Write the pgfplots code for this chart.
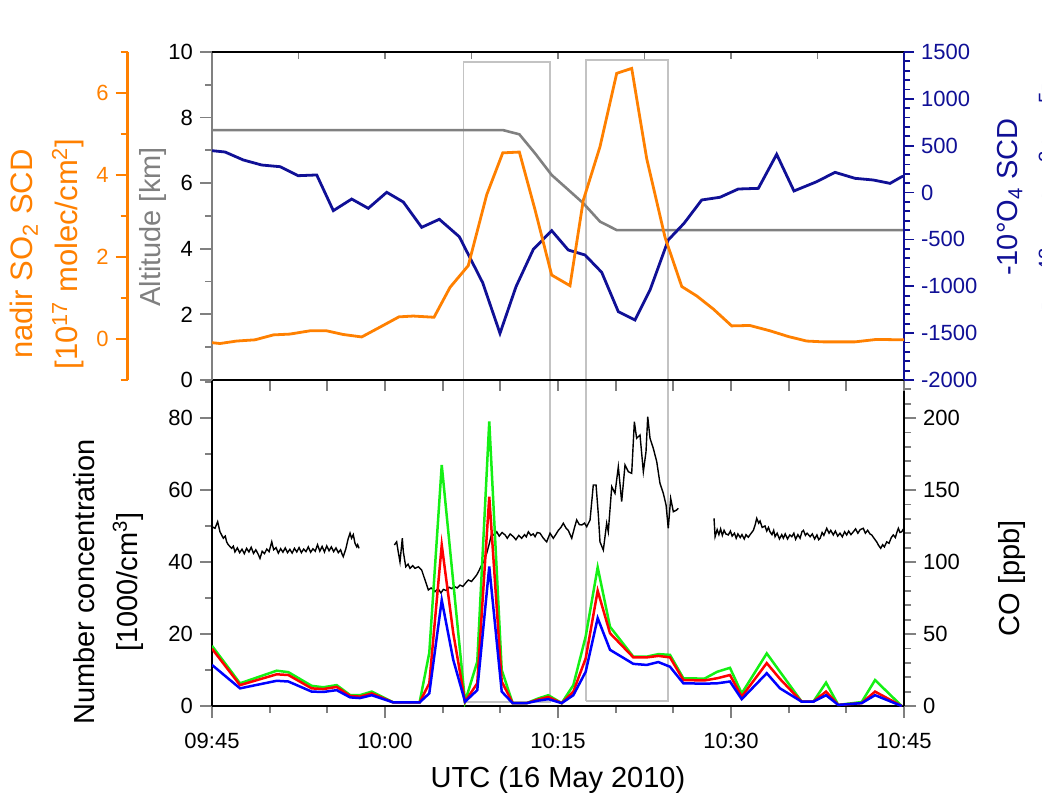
\documentclass[border=0pt]{standalone}
\usepackage{fontspec}
\setmainfont{Liberation Sans}
\usepackage{pgfplots}
\usepackage{pgfplotstable}
\pgfplotsset{compat=1.18}

\definecolor{so2}{RGB}{255,128,0}
\definecolor{o4}{RGB}{16,16,150}
\definecolor{alt}{RGB}{128,128,128}
\definecolor{boxg}{RGB}{195,195,195}
\definecolor{pgreen}{RGB}{20,240,20}
\definecolor{pred}{RGB}{255,0,0}
\definecolor{pblue}{RGB}{0,0,255}

% particle number concentration, minutes after 09:45
\pgfplotstableread{
t     g     r     b
0     16.7  15.9  11.4
2.43  6.3   5.8   4.9
5.61  9.8   8.8   7.0
6.62  9.4   8.6   6.8
8.64  5.6   4.9   4.0
9.65  5.2   4.7   3.9
10.81 5.8   5.3   4.4
11.97 3.05  2.8   2.4
12.83 3.0   2.6   2.2
13.85 4.0   3.5   3.0
15.72 1.0   1.0   1.0
18.0  1.0   1.0   1.0
18.84 14.8  6.3   3.5
19.92 66.9  44.7  29.4
20.92 34.3  20.2  12.8
21.94 1.2   1.2   1.2
23.00 12.3  6.3   4.4
24.04 79.0  58.1  38.7
25.12 10.0  6.8   4.0
26.07 0.8   0.8   0.8
27.29 0.8   0.8   0.8
28.29 2.1   1.8   1.5
29.16 3.0   2.5   1.9
30.32 0.8   0.8   0.8
31.33 5.8   4.0   3.0
32.40 19.3  13.2  9.5
33.44 38.5  32.0  24.4
34.51 22.0  20.2  15.6
36.53 13.7  13.5  11.7
37.69 13.7  13.5  11.4
38.70 14.4  13.9  12.2
39.71 14.2  13.5  10.9
40.87 7.7   7.2   6.3
42.7  7.6   7.1   6.2
43.8  9.5   7.7   6.3
44.91 10.6  8.6   6.8
45.93 3.5   2.6   1.9
48.10 14.6  11.9  9.1
49.25 9.5   7.5   4.9
51.13 1.2   1.2   1.2
52.14 1.2   1.2   1.2
53.24 6.5   4.0   3.0
54.30 0.3   0.3   0.3
56.33 1.1   0.8   0.8
57.49 7.2   4.0   3.0
59.80 0     0     0
}\partdata

\pgfplotsset{
  panel/.style={scale only axis, width=346pt, xmin=0, xmax=60,
    tick label style={font=\fontsize{11}{13}\selectfont},
    /pgf/number format/assume math mode=true,
    /pgf/number format/1000 sep={},
    tick align=outside,
    major tick length=6pt, minor tick length=3.5pt,
    every tick/.append style={line width=0.9pt},
    axis line style={line width=1pt},
    clip mode=individual},
}
\tikzset{lab/.style={font=\fontsize{14.5}{17}\selectfont, inner sep=0pt},
         bigl/.style={font=\fontsize{15.5}{18}\selectfont, inner sep=0pt}}

\begin{document}
\begin{tikzpicture}
\useasboundingbox (-106pt,-48.5pt) rectangle (415pt,353pt);

% grey frames and all axis titles
\begin{axis}[panel, height=327pt, ymin=0, ymax=1, hide axis, clip=false]
  \addplot[boxg, line width=0.8pt] coordinates {(21.79,0.006) (29.31,0.006) (29.31,0.985) (21.79,0.985) (21.79,0.006)};
  \addplot[boxg, line width=0.8pt] coordinates {(32.45,0.008) (39.56,0.008) (39.56,0.988) (32.45,0.988) (32.45,0.008)};
  \node[bigl, so2, rotate=90] at ([xshift=-94pt, yshift=226pt]rel axis cs:0,0) {nadir SO\textsubscript{2} SCD};
  \node[bigl, so2, rotate=90] at ([xshift=-72pt, yshift=226pt]rel axis cs:0,0) {[10\textsuperscript{17} molec/cm\textsuperscript{2}]};
  \node[lab, alt, rotate=90] at ([xshift=-29.5pt, yshift=239.5pt]rel axis cs:0,0) {Altitude [km]};
  \node[lab, o4, rotate=90] at ([xshift=399pt, yshift=254.5pt]rel axis cs:0,0) {-10°O\textsubscript{4} SCD};
  \node[lab, o4, rotate=90] at ([xshift=421pt, yshift=254.5pt]rel axis cs:0,0) {[10\textsuperscript{43} molec\textsuperscript{2}/cm\textsuperscript{5}]};
  \node[lab, rotate=90] at ([xshift=-64pt, yshift=62pt]rel axis cs:0,0) {Number concentration};
  \node[lab, rotate=90] at ([xshift=-42pt, yshift=62pt]rel axis cs:0,0) {[1000/cm\textsuperscript{3}]};
  \node[lab, rotate=90] at ([xshift=400pt, yshift=64pt]rel axis cs:0,0) {CO [ppb]};
  \node[lab] at ([yshift=-37pt]rel axis cs:0.5,0) {UTC (16 May 2010)};
\end{axis}

% ---- bottom panel ----
% CO, right axis
\begin{axis}[panel, height=163pt, ymin=0, ymax=226.4,
  axis x line=none, axis y line*=right,
  ytick={0,50,...,200}, minor ytick={10,20,...,220}]
  \addplot[black, line width=0.7pt] coordinates {
    (0,124.5) (0.26,123.4) (0.49,128) (0.69,121) (0.98,116.5) (1.15,118) (1.27,114) (1.41,112)
    (1.71,109.5) (1.85,111) (1.99,107) (2.2,109.8) (2.4,106.5) (2.6,108.9) (2.8,105.8) (3.0,109.5)
    (3.2,107) (3.4,110.2) (3.6,106) (3.8,108.5) (4.0,105.5) (4.16,102.5) (4.35,107.5) (4.55,105.8)
    (4.75,109) (4.95,107.2) (5.18,114) (5.35,108.5) (5.55,110) (5.75,106.2) (5.95,109.3) (6.15,106.8)
    (6.35,109.8) (6.55,106.5) (6.75,108.8) (6.95,106.2) (7.15,109.5) (7.35,107) (7.55,110) (7.75,106.5)
    (7.95,109) (8.15,107.2) (8.35,110.5) (8.55,106.8) (8.75,109.2) (8.95,107.5) (9.15,112) (9.35,107.5)
    (9.55,110.8) (9.75,107) (9.95,111.2) (10.15,107.8) (10.35,110.5) (10.55,107.2) (10.75,109.8)
    (10.95,106.5) (11.15,108.5) (11.3,105) (11.38,103.7) (11.6,109) (11.8,116) (11.97,120)
    (12.1,116.5) (12.25,119) (12.4,113) (12.55,110.6) (12.63,112) (12.75,109.5)};
  \addplot[black, line width=0.7pt] coordinates {
    (15.81,111.8) (16.01,114) (16.15,107) (16.30,100) (16.50,116.5) (16.59,107) (16.80,96.7)
    (17.0,98.5) (17.17,95.6) (17.4,97.5) (17.6,95.6) (17.89,96.7) (18.18,94.4) (18.47,87.5)
    (18.76,80.6) (19.0,82) (19.34,79.4) (19.6,81.5) (19.85,78.5) (20.06,81) (20.3,80.2) (20.55,82.5)
    (20.78,81.5) (21.0,83) (21.25,82) (21.5,84) (21.75,83) (22.0,85.5) (22.22,87.5) (22.5,86.5)
    (22.75,89) (22.95,91) (23.15,94) (23.38,97.9) (23.6,101) (23.82,106) (24.05,113) (24.25,120)
    (24.45,118.5) (24.69,121) (24.9,118) (25.15,120.5) (25.41,118.8) (25.6,116.5) (25.85,119.5)
    (26.13,117.6) (26.35,115.5) (26.6,118.5) (26.85,116.5) (27.1,119) (27.25,117.5) (27.43,121)
    (27.65,118.5) (27.85,119.5) (28.01,117.6) (28.2,120.5) (28.44,120) (28.73,116.5) (29.02,114)
    (29.31,120) (29.59,116.5) (29.8,119) (30.03,122) (30.25,124) (30.46,126.9) (30.7,123.5)
    (30.89,122) (31.19,116.5) (31.4,123) (31.62,129.2) (31.85,126) (32.06,125.7) (32.3,127)
    (32.49,124.5) (32.78,129.2) (33.06,153.5) (33.30,153.5) (33.50,132.6) (33.64,114) (33.93,108.3)
    (34.22,126.9) (34.36,121) (34.66,152.3) (34.94,147.7) (35.23,166.2) (35.52,141.9) (35.81,167.4)
    (36.10,162.7) (36.39,161.6) (36.62,197.4) (36.82,185.9) (37.11,188.2) (37.40,162.7) (37.63,176.6)
    (37.78,200.9) (37.98,185.9) (38.26,179) (38.56,169.7) (38.84,154.7) (39.13,147.7) (39.37,139.6)
    (39.56,123.4) (39.77,144.2) (40.0,134.9) (40.29,136.1) (40.43,137.3)};
  \addplot[black, line width=0.7pt] coordinates {
    (43.53,130.3) (43.62,117.6) (43.8,122.5) (43.95,119) (44.1,123) (44.25,118.5) (44.4,122)
    (44.55,119.5) (44.77,118.8) (44.95,121.5) (45.1,118) (45.3,120) (45.45,116.5) (45.6,119.5)
    (45.8,117) (45.95,119) (46.15,116) (46.3,119) (46.5,117.2) (46.7,119.5) (46.94,122) (47.1,126)
    (47.23,130.3) (47.4,127) (47.52,128.5) (47.7,124) (47.95,125) (48.1,121.5) (48.25,124)
    (48.38,121) (48.55,119) (48.7,122) (48.82,117.6) (49.0,120) (49.2,116) (49.4,119) (49.54,116.5)
    (49.7,119.5) (49.9,116) (50.1,118.8) (50.27,117.6) (50.45,120) (50.6,115.8) (50.8,119)
    (50.99,116.5) (51.15,121) (51.28,122) (51.45,118.5) (51.6,120) (51.86,117.6) (52.05,119.5)
    (52.25,116) (52.45,118.8) (52.6,115.5) (52.73,116.5) (52.9,120.5) (53.05,118.5) (53.3,123.4)
    (53.5,120) (53.65,122) (53.87,118.8) (54.05,121.5) (54.25,118) (54.45,120) (54.65,117.5)
    (54.85,121) (55.03,118.8) (55.2,121.5) (55.4,119) (55.61,121) (55.8,123) (56.0,120) (56.2,122.5)
    (56.47,123.4) (56.65,120) (56.85,122) (57.05,119.5) (57.2,118.8) (57.4,116.5) (57.63,114)
    (57.8,111.5) (57.98,109.5) (58.15,112) (58.3,110.5) (58.5,114) (58.7,113) (58.9,117)
    (59.07,118.8) (59.25,117) (59.4,121) (59.51,123.4) (59.65,120.5) (59.8,121) (60.0,123.5)};
\end{axis}

% top edge ticks of the bottom panel
\begin{axis}[panel, height=163pt, ymin=0, ymax=1,
  axis y line=none, axis x line*=top, tick align=inside,
  xtick={0,5,...,60}, xticklabels={}, major tick length=5.5pt]
\end{axis}

% number concentration, left axis and time axis
\begin{axis}[panel, height=163pt, ymin=0, ymax=90.5,
  axis x line*=bottom, axis y line*=left,
  xtick={0,15,30,45,60}, xticklabels={09:45,10:00,10:15,10:30,10:45},
  xticklabel style={yshift=-4pt},
  minor xtick={5,10,20,25,35,40,50,55},
  ytick={0,20,40,60,80}, minor ytick={10,30,50,70,90}]
  \addplot[pgreen, line width=1.25pt] table[x=t, y=g] {\partdata};
  \addplot[pred, line width=1.25pt] table[x=t, y=r] {\partdata};
  \addplot[pblue, line width=1.25pt] table[x=t, y=b] {\partdata};
\end{axis}

% ---- top panel ----
% altitude
\begin{axis}[panel, at={(0,163pt)}, height=164pt, ymin=0, ymax=10,
  axis x line=none, axis y line*=left,
  y axis line style={alt, line width=1.2pt}, ytick style={alt},
  ytick={0,2,...,10}, minor y tick num=1]
  \addplot[alt, line width=1.3pt] coordinates {
    (0,7.62) (25.21,7.62) (26.65,7.49) (28.01,6.91) (29.45,6.25) (30.76,5.84)
    (32.19,5.39) (33.64,4.83) (35.09,4.57) (60,4.57)};
\end{axis}

% top edge
\begin{axis}[panel, at={(0,163pt)}, height=164pt, ymin=0, ymax=1,
  axis y line=none, axis x line*=top, tick align=inside,
  xtick={0,7.5,...,60}, xticklabels={}, major tick length=3.5pt]
\end{axis}

% O4
\begin{axis}[panel, at={(0,163pt)}, height=164pt, ymin=-2000, ymax=1500,
  axis x line=none, axis y line*=right,
  y axis line style={o4, line width=1.2pt}, ytick style={o4}, yticklabel style={o4},
  ytick={-2000,-1500,...,1500}, minor y tick num=4,
  major tick length=5pt, minor tick length=3pt]
  \addplot[o4, line width=1.4pt] coordinates {
    (0,447) (1.13,433) (2.71,348) (4.31,294) (5.90,276) (7.48,180) (9.08,188) (10.52,-193)
    (12.11,-69) (13.55,-168) (15.15,3) (16.59,-101) (18.18,-371) (19.71,-285) (21.44,-471)
    (23.47,-962) (24.97,-1502) (26.36,-1004) (27.86,-606) (29.45,-406) (30.89,-613) (32.34,-666)
    (33.79,-851) (35.23,-1271) (36.68,-1360) (37.98,-1040) (39.56,-506) (40.93,-328) (42.46,-79)
    (44.05,-50) (45.63,38) (47.37,45) (48.96,408) (50.46,17) (52.43,116) (54.02,216) (55.75,152)
    (57.34,134) (58.79,98) (59.8,169) (60,175)};
\end{axis}

% SO2
\begin{axis}[panel, at={(0,163pt)}, height=164pt, ymin=-1, ymax=7,
  axis x line=none, axis y line*=left, axis y line shift=42.2pt,
  y axis line style={so2, line width=1.2pt}, ytick style={so2}, yticklabel style={so2},
  ytick={0,2,4,6}, minor ytick={-1,1,3,5,7}]
  \addplot[so2, line width=1.4pt] coordinates {
    (0,-0.09) (0.69,-0.11) (2.14,-0.05) (3.73,-0.02) (5.32,0.1) (6.76,0.12) (8.50,0.2) (9.94,0.2)
    (11.38,0.11) (12.98,0.05) (14.57,0.29) (16.21,0.54) (17.45,0.56) (19.25,0.53) (20.64,1.26)
    (22.22,1.79) (23.82,3.52) (25.21,4.54) (26.65,4.56) (28.01,3.15) (29.45,1.56) (31.04,1.30)
    (32.19,3.38) (33.64,4.69) (35.09,6.48) (36.39,6.60) (37.69,4.40) (39.28,2.48) (40.73,1.28)
    (42.03,1.05) (43.47,0.73) (45.06,0.32) (46.63,0.33) (48.38,0.2) (49.97,0.06) (51.56,-0.05)
    (53.0,-0.07) (54.45,-0.07) (55.75,-0.07) (57.63,-0.01) (59.8,-0.02) (60,-0.02)};
\end{axis}
\end{tikzpicture}
\end{document}
